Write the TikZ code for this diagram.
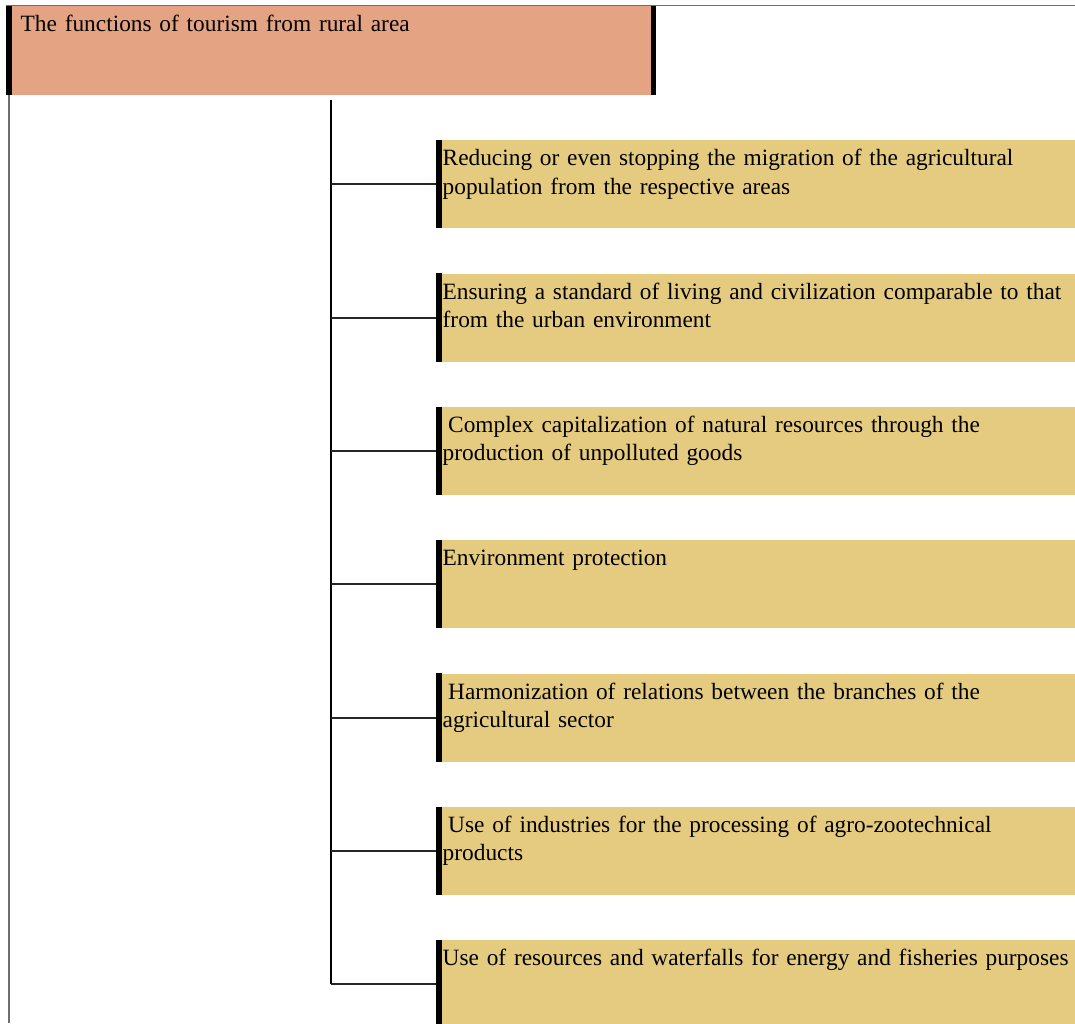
\documentclass[tikz,border=0pt]{standalone}
\usepackage{fontspec}
\setmainfont[WordSpace=0.75]{Liberation Serif}
\definecolor{hdrcol}{HTML}{E4A382}
\definecolor{boxcol}{HTML}{E5CB80}
\definecolor{framegray}{HTML}{6E6E6E}
\begin{document}
\begin{tikzpicture}[x=1pt,y=-1pt,
  hdrbox/.style={rectangle,fill=hdrcol,draw=none,inner sep=0,minimum width=650,minimum height=89,anchor=north west},
  fnbox/.style={rectangle,fill=boxcol,draw=none,inner sep=0,minimum width=645,minimum height=88,anchor=north west},
  barline/.style={line width=5.5pt,black},
  frameline/.style={line width=1.2pt,framegray},
  trunkline/.style={line width=2.6pt,black},
  linkline/.style={line width=2pt,black!85},
  txt/.style={inner sep=0,anchor=base west,text width=700,align=left,font=\fontsize{23.35}{28.3}\selectfont}
]
\useasboundingbox (0,0) rectangle (1075,1023);
\clip (0,0) rectangle (1075,1023);
% header
\node[hdrbox] (h) at (6,6) {};
\draw[frameline] (6,5.6) -- (1075,5.6);
\draw[frameline] (9,95) -- (9,1023);
\draw[barline] ([xshift=3pt]h.north west) -- ([xshift=3pt]h.south west);
\draw[barline] ([xshift=-3pt]h.north east) -- ([xshift=-3pt]h.south east);
\node[txt] (ht) at (20.5,31.7) {The functions of tourism from rural area};
% boxes
\foreach \i/\y/\t in {
 1/140/{Reducing or even stopping the migration of the agricultural\\population from the respective areas},
 2/273.3/{Ensuring a standard of living and civilization comparable to that\\from the urban environment},
 3/406.7/{\hspace{5.5pt}Complex capitalization of natural resources through the\\production of unpolluted goods},
 4/540/{Environment protection},
 5/673.3/{\hspace{5.5pt}Harmonization of relations between the branches of the\\agricultural sector},
 6/806.7/{\hspace{5.5pt}Use of industries for the processing of agro-zootechnical\\products},
 7/940/{Use of resources and waterfalls for energy and fisheries purposes}}{
  \node[fnbox] (b\i) at (436,\y) {};
  \draw[barline] ([xshift=3pt]b\i.north west) -- ([xshift=3pt]b\i.south west);
  \node[txt] (t\i) at (442.5,\y+25.7) {\t};
}
% trunk and links
\coordinate (trtop) at (331,100);
\coordinate (trbot) at (trtop |- b7.west);
\draw[trunkline] (trtop) -- (trbot);
\foreach \i in {1,...,7}{
  \draw[linkline] (trtop |- b\i.west) -- (b\i.west);
}
\end{tikzpicture}
\end{document}
